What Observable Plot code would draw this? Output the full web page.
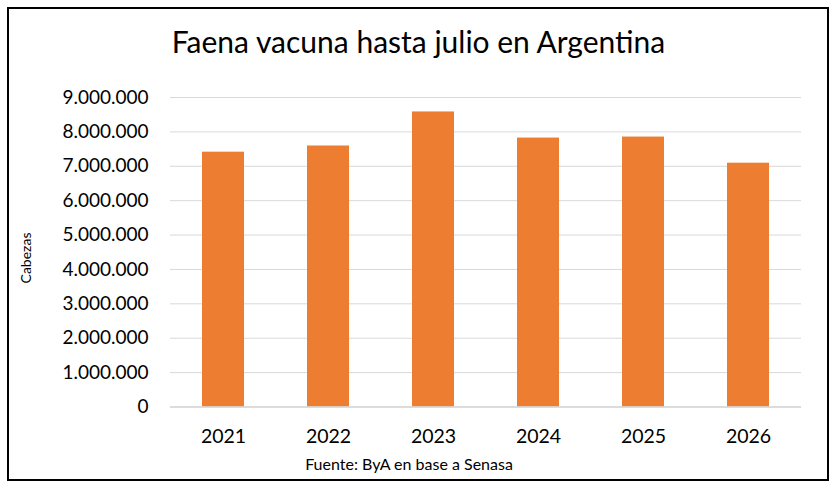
<!DOCTYPE html>
<html>
<head>
<meta charset="utf-8">
<script src="https://cdn.jsdelivr.net/npm/d3@7"></script>
<script src="https://cdn.jsdelivr.net/npm/@observablehq/plot@0.6"></script>
<style>
  html, body { margin: 0; padding: 0; background: #fff; }
  #wrap { position: relative; width: 837px; height: 492px; overflow: hidden; background: #fff; font-family: Lato, "Open Sans", sans-serif; }
  #frame { position: absolute; left: 7px; top: 7px; width: 822px; height: 474px; border: 2px solid #000; box-sizing: border-box; }
  #title { position: absolute; left: 0; width: 837px; top: 23px; text-align: center; font-size: 30px; color: #000; box-sizing: border-box; }
  #chart { position: absolute; left: 0; top: 70px; }
  #caption { position: absolute; left: 0; width: 818px; top: 454px; text-align: center; font-size: 16px; color: #000; }
  #ylabel { position: absolute; left: 25px; top: 258px; transform: translate(-50%, -50%) rotate(-90deg); font-size: 14px; color: #000; white-space: nowrap; }
</style>
</head>
<body>
<div id="wrap">
  <div id="frame"></div>
  <div id="title">Faena vacuna hasta julio en Argentina</div>
  <div id="ylabel">Cabezas</div>
  <div id="chart"></div>
  <div id="caption">Fuente: ByA en base a Senasa</div>
</div>
<script>
const years = ["2021", "2022", "2023", "2024", "2025", "2026"];
const values = [7410000, 7590000, 8580000, 7820000, 7850000, 7090000];
const yTicks = [0, 1000000, 2000000, 3000000, 4000000, 5000000, 6000000, 7000000, 8000000, 9000000];

const data = years.map((y, i) => ({year: y, value: values[i]}));
const locale = d3.formatLocale({decimal: ",", thousands: ".", grouping: [3], currency: ["$", ""]});
const fmt = locale.format(",d");

const chart = Plot.plot({
  width: 837,
  height: 400,
  marginTop: 27,
  marginBottom: 63.5,
  marginLeft: 170,
  marginRight: 36,
  style: {fontFamily: "Lato, 'Open Sans', sans-serif", background: "transparent", overflow: "visible"},
  x: {domain: years, paddingInner: 0.604, paddingOuter: 0.302, label: null, tickSize: 0, tickPadding: 22},
  y: {domain: [0, 9000000], ticks: yTicks, tickFormat: fmt, label: null, tickSize: 0, tickPadding: 22},
  marks: [
    Plot.ruleY(yTicks.filter(d => d > 0), {stroke: "#d9d9d9", strokeWidth: 1}),
    Plot.barY(data, {x: "year", y: "value", fill: "#ED7D31"}),
    Plot.ruleY([0], {stroke: "#d0d0d0", strokeWidth: 1.5}),
    Plot.axisY({ticks: yTicks, tickFormat: fmt, tickSize: 0, tickPadding: 22, fontSize: 19, fill: "#000", label: null}),
    Plot.axisX({tickSize: 0, tickPadding: 22, fontSize: 19.5, fill: "#000", label: null})
  ]
});
document.getElementById("chart").appendChild(chart);
</script>
</body>
</html>
